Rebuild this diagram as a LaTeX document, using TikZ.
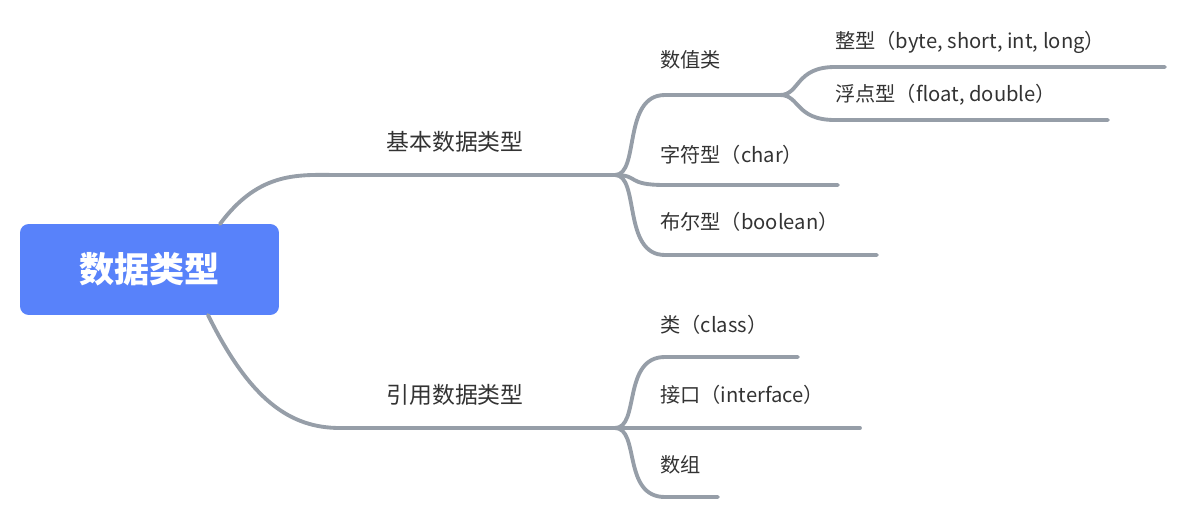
\documentclass[tikz,border=0pt]{standalone}
\usepackage{fontspec}
\setmainfont{Noto Sans CJK SC}
\usetikzlibrary{positioning}
\definecolor{rootblue}{RGB}{88,130,250}
\definecolor{branchgray}{RGB}{150,158,168}
\definecolor{textgray}{RGB}{51,51,51}
\tikzstyle{rootbox}=[rectangle, rounded corners=5pt, fill=rootblue, text=white, minimum width=5.18cm, minimum height=1.82cm, font=\fontsize{20}{24}\selectfont\bfseries]
\tikzstyle{mainlabel}=[anchor=center, text=textgray, font=\fontsize{13}{16}\selectfont]
\tikzstyle{leaf}=[anchor=west, inner sep=0pt, text=textgray, font=\fontsize{11.5}{14}\selectfont]
\tikzstyle{branch}=[draw=branchgray, line width=2.2pt, line cap=round]
\begin{document}
\begin{tikzpicture}[x=0.02cm, y=-0.02cm]
  \useasboundingbox (0,0) rectangle (1185,521);
  \node[rootbox] (root) at (149.5,269.5) {数据类型};

  % upper branch
  \coordinate (basicfork) at (615,175);
  \path[branch] (220,224) .. controls (260,170) and (300,175) .. (340,175) -- (basicfork);
  \node[mainlabel] (basic) at (455,142) {基本数据类型};

  \coordinate (numfork) at (780,95);
  \coordinate (charend) at (838,185);
  \coordinate (boolend) at (877,255);
  \path[branch] (basicfork) .. controls (640,175) and (622,95) .. (665,95) -- (numfork);
  \path[branch] (basicfork) .. controls (640,175) and (625,185) .. (665,185) -- (charend);
  \path[branch] (basicfork) .. controls (640,175) and (622,255) .. (665,255) -- (boolend);
  \node[leaf] (num) at (660,60) {数值类};
  \node[leaf] (char) at (660,155) {字符型（char）};
  \node[leaf] (bool) at (660,222) {布尔型（boolean）};

  \coordinate (intend) at (1165,67);
  \coordinate (floatend) at (1108,120);
  \path[branch] (numfork) .. controls (800,95) and (795,67) .. (835,67) -- (intend);
  \path[branch] (numfork) .. controls (800,95) and (795,120) .. (835,120) -- (floatend);
  \node[leaf] (int) at (835,42) {整型（byte, short, int, long）};
  \node[leaf] (float) at (835,95) {浮点型（float, double）};

  % lower branch
  \coordinate (reffork) at (615,428);
  \path[branch] (208,315) .. controls (250,400) and (290,428) .. (340,428) -- (reffork);
  \node[mainlabel] (ref) at (455,395) {引用数据类型};

  \coordinate (classend) at (798,357);
  \coordinate (ifaceend) at (860,428);
  \coordinate (arrend) at (718,497);
  \path[branch] (reffork) .. controls (640,428) and (622,357) .. (665,357) -- (classend);
  \path[branch] (reffork) -- (ifaceend);
  \path[branch] (reffork) .. controls (640,428) and (622,497) .. (665,497) -- (arrend);
  \node[leaf] (class) at (660,325) {类（class）};
  \node[leaf] (iface) at (660,395) {接口（interface）};
  \node[leaf] (arr) at (660,465) {数组};
\end{tikzpicture}
\end{document}
